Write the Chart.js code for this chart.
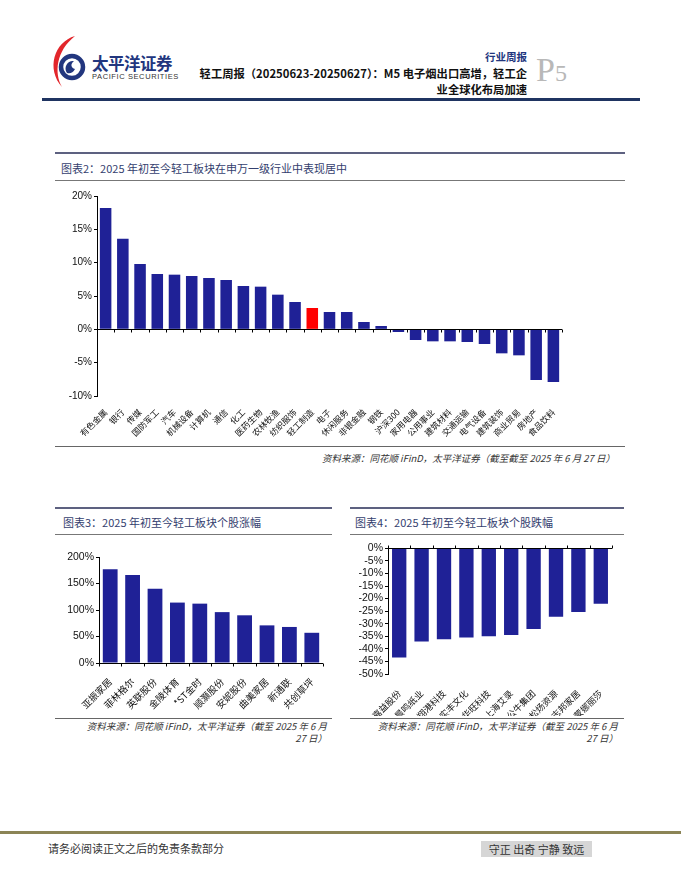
<!DOCTYPE html>
<html>
<head>
<meta charset="utf-8">
<script src="https://cdn.jsdelivr.net/npm/chart.js@4.4.1/dist/chart.umd.min.js"></script>
<style>
  html, body { margin: 0; padding: 0; background: #fff; }
  #page { position: relative; width: 681px; height: 881px; overflow: hidden; font-family: "Noto Sans CJK SC", sans-serif; color: #222; }
  .abs { position: absolute; }
  .hline { position: absolute; height: 0; }
  .title { position: absolute; font-size: 11px; color: #34406e; line-height: 14px; white-space: nowrap; }
  .src { position: absolute; font-size: 9.5px; font-style: italic; color: #333; text-align: right; line-height: 11.5px; }
  canvas { position: absolute; }
</style>
</head>
<body>
<div id="page">
  <!-- header -->
  <svg class="abs" style="left:46px;top:35px" width="48" height="54" viewBox="0 0 48 54">
    <path d="M29 1 C8 7 0 34 16 52 C8 38 10 16 29 1 Z" fill="#e2262b"/>
    <circle cx="26" cy="32" r="11" fill="none" stroke="#22367e" stroke-width="4.5"/>
    <path d="M21 38 C17 32 22 25 28 26 C24 29 25 33 29 34 C27 38 24 39 21 38 Z" fill="#22367e"/>
  </svg>
  <div class="abs" style="left:92px;top:53px;font-size:16.5px;font-weight:700;color:#22367e;letter-spacing:-0.5px;line-height:20px">太平洋证券</div>
  <div class="abs" style="left:92px;top:72px;font-size:7.5px;color:#333;letter-spacing:0.6px;font-family:'Liberation Sans',sans-serif;line-height:10px">PACIFIC SECURITIES</div>
  <div class="abs" style="right:154px;top:50px;font-size:10.5px;color:#22367e;font-weight:700;line-height:14px">行业周报</div>
  <div class="abs" style="right:154px;top:65px;font-size:11.3px;font-weight:700;color:#111;line-height:16px;white-space:nowrap;text-align:right">轻工周报（20250623-20250627）：M5 电子烟出口高增，轻工企<br>业全球化布局加速</div>
  <div class="abs" style="left:536px;top:50px;font-family:'Liberation Serif',serif;color:#b8b8b8;line-height:40px;white-space:nowrap"><span style="font-size:34px">P</span><span style="font-size:24px">5</span></div>
  <div class="hline" style="left:42px;width:598px;top:98px;border-top:3px solid #1f3461"></div>

  <!-- chart 2 -->
  <div class="hline" style="left:55px;width:570px;top:152px;border-top:2px solid #5d6180"></div>
  <div class="title" style="left:61px;top:161px">图表2：2025 年初至今轻工板块在申万一级行业中表现居中</div>
  <div class="hline" style="left:55px;width:570px;top:180px;border-top:1px solid #777"></div>
  <canvas id="chartIndustry" style="left:55px;top:188px" width="570" height="256"></canvas>
  <div class="hline" style="left:55px;width:570px;top:446px;border-top:1px solid #666"></div>
  <div class="src" style="left:55px;width:560px;top:453px">资料来源：同花顺 iFinD，太平洋证券（截至截至 2025 年 6 月 27 日）</div>

  <!-- chart 3 -->
  <div class="hline" style="left:55px;width:277px;top:507px;border-top:2px solid #5d6180"></div>
  <div class="title" style="left:63px;top:515px">图表3：2025 年初至今轻工板块个股涨幅</div>
  <div class="hline" style="left:55px;width:277px;top:534px;border-top:1px solid #777"></div>
  <canvas id="chartGainers" style="left:55px;top:540px" width="277" height="176"></canvas>
  <div class="hline" style="left:55px;width:277px;top:718px;border-top:1px solid #666"></div>
  <div class="src" style="left:55px;width:272px;top:721px">资料来源：同花顺 iFinD，太平洋证券（截至 2025 年 6 月<br>27 日）</div>

  <!-- chart 4 -->
  <div class="hline" style="left:350px;width:274px;top:507px;border-top:2px solid #5d6180"></div>
  <div class="title" style="left:355px;top:515px">图表4：2025 年初至今轻工板块个股跌幅</div>
  <div class="hline" style="left:350px;width:274px;top:534px;border-top:1px solid #777"></div>
  <canvas id="chartLosers" style="left:343px;top:540px" width="282" height="176"></canvas>
  <div class="hline" style="left:350px;width:274px;top:718px;border-top:1px solid #666"></div>
  <div class="src" style="left:350px;width:268px;top:721px">资料来源：同花顺 iFinD，太平洋证券（截至 2025 年 6 月<br>27 日）</div>

  <!-- footer -->
  <div class="hline" style="left:0;width:681px;top:831px;border-top:3px solid #8b8456"></div>
  <div class="abs" style="left:48px;top:841px;font-size:11px;color:#333;line-height:15px">请务必阅读正文之后的免责条款部分</div>
  <div class="abs" style="left:481px;top:841px;width:111px;height:16px;background:#d6d6d6;font-size:11px;color:#333;line-height:16px;text-align:center;white-space:nowrap">守正 出奇 宁静 致远</div>
</div>

<script>
  // 图表2：申万一级行业 2025 年初至今涨跌幅 (%)
  const industryLabels = ["有色金属", "银行", "传媒", "国防军工", "汽车", "机械设备", "计算机", "通信", "化工",
    "医药生物", "农林牧渔", "纺织服饰", "轻工制造", "电子", "休闲服务", "非银金融", "钢铁", "沪深300",
    "家用电器", "公用事业", "建筑材料", "交通运输", "电气设备", "建筑装饰", "商业贸易", "房地产", "食品饮料"];
  const industryValues = [18.2, 13.6, 9.8, 8.3, 8.2, 8.0, 7.7, 7.4, 6.5,
    6.4, 5.2, 4.1, 3.2, 2.6, 2.6, 1.1, 0.5, -0.4,
    -1.6, -1.8, -1.8, -1.9, -2.2, -3.6, -3.9, -7.6, -7.9];
  const industryTicks = [20, 15, 10, 5, 0, -5, -10];
  const highlightLabel = "轻工制造";

  // 图表3：个股涨幅 (%)
  const gainerLabels = ["亚振家居", "菲林格尔", "英联股份", "金陵体育", "*ST金时", "顺灏股份", "安妮股份", "曲美家居", "新通联", "共创草坪"];
  const gainerValues = [177, 166, 140, 114, 112, 96, 90, 71, 68, 57];
  const gainerTicks = [0, 50, 100, 150, 200];

  // 图表4：个股跌幅 (%)
  const loserLabels = ["嘉益股份", "晨鸣纸业", "翔港科技", "实丰文化", "华旺科技", "上海艾录", "公牛集团", "松炀资源", "志邦家居", "蒙娜丽莎"];
  const loserValues = [-43.4, -37.1, -36.2, -35.5, -35.0, -34.5, -32.1, -27.2, -25.3, -22.1];
  const loserTicks = [0, -5, -10, -15, -20, -25, -30, -35, -40, -45, -50];

  const navy = "#1f2196";
  const red = "#ff0000";
  const numFont = "'Liberation Sans', Arial, sans-serif";
  const cjkFont = "'Noto Sans CJK SC', sans-serif";

  // zero line with category tick marks (up for negative-only charts, down otherwise)
  const zeroAxis = {
    id: "zeroAxis",
    afterDatasetsDraw(chart, args, opts) {
      const { ctx, chartArea, scales } = chart;
      const y0 = Math.round(scales.y.getPixelForValue(0)) + 0.5;
      const n = chart.data.labels.length;
      const step = (chartArea.right - chartArea.left) / n;
      const dir = opts.up ? -1 : 1;
      ctx.save();
      ctx.strokeStyle = "#000";
      ctx.lineWidth = 1;
      ctx.beginPath();
      ctx.moveTo(chartArea.left, y0);
      ctx.lineTo(chartArea.right, y0);
      for (let i = 0; i <= n; i++) {
        const x = Math.round(chartArea.left + i * step) + 0.5;
        ctx.moveTo(x, y0);
        ctx.lineTo(x, y0 + dir * (opts.tick || 3));
      }
      ctx.stroke();
      ctx.restore();
    }
  };

  const renderBarChart = (canvasId, cfg) => {
    const canvas = document.getElementById(canvasId);
    new Chart(canvas, {
      type: "bar",
      data: {
        labels: cfg.labels,
        datasets: [{
          data: cfg.values,
          backgroundColor: cfg.colors,
          borderWidth: 0,
          barPercentage: cfg.barPct,
          categoryPercentage: 1
        }]
      },
      plugins: [zeroAxis],
      options: {
        responsive: false,
        animation: false,
        layout: { padding: cfg.padding },
        plugins: {
          legend: { display: false },
          tooltip: { enabled: false },
          zeroAxis: { up: cfg.tickUp, tick: 3 }
        },
        scales: {
          x: {
            grid: { display: false },
            border: { display: false },
            afterFit(scale) { scale.height = cfg.xHeight; },
            ticks: {
              autoSkip: false,
              minRotation: 45,
              maxRotation: 45,
              padding: cfg.labelPad,
              color: "#111",
              font: { family: cjkFont, size: cfg.labelSize }
            }
          },
          y: {
            min: Math.min(...cfg.ticks),
            max: Math.max(...cfg.ticks),
            afterFit(scale) { scale.width = cfg.yWidth; },
            afterBuildTicks(scale) { scale.ticks = cfg.ticks.map((v) => ({ value: v })); },
            border: { display: true, color: "#000", width: 1 },
            grid: { display: true, drawOnChartArea: false, drawTicks: true, tickLength: 3, color: "#000" },
            ticks: {
              autoSkip: false,
              color: "#111",
              padding: 2,
              font: { family: numFont, size: cfg.tickSize },
              callback: (v) => v + "%"
            }
          }
        }
      }
    });
  };

  renderBarChart("chartIndustry", {
    labels: industryLabels,
    values: industryValues,
    colors: industryLabels.map((l) => l === highlightLabel ? red : navy),
    ticks: industryTicks,
    barPct: 0.67,
    padding: { top: 8, right: 63, left: 0, bottom: 0 },
    yWidth: 42,
    xHeight: 48,
    labelPad: 3,
    labelSize: 8.5,
    tickSize: 10,
    tickUp: false
  });

  renderBarChart("chartGainers", {
    labels: gainerLabels,
    values: gainerValues,
    colors: navy,
    ticks: gainerTicks,
    barPct: 0.66,
    padding: { top: 17, right: 9, left: 0, bottom: 0 },
    yWidth: 44,
    xHeight: 53,
    labelPad: 5,
    labelSize: 9.5,
    tickSize: 10.5,
    tickUp: false
  });

  renderBarChart("chartLosers", {
    labels: loserLabels,
    values: loserValues,
    colors: navy,
    ticks: loserTicks,
    barPct: 0.64,
    padding: { top: 7, right: 13, left: 0, bottom: 0 },
    yWidth: 45,
    xHeight: 42,
    labelPad: 6,
    labelSize: 9,
    tickSize: 10.5,
    tickUp: true
  });
</script>
</body>
</html>
